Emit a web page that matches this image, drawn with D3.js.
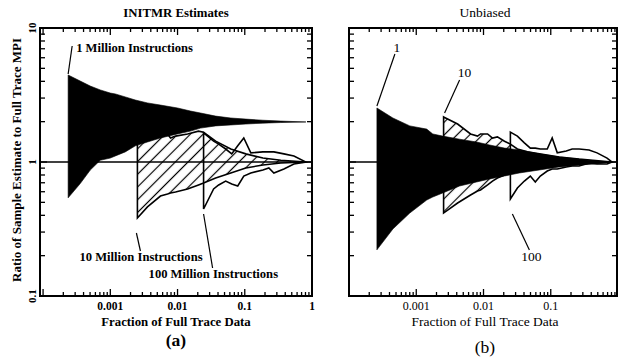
<!DOCTYPE html>
<html>
<head>
<meta charset="utf-8">
<script src="https://cdn.jsdelivr.net/npm/d3@7"></script>
<style>
body { margin: 0; background: #fff; }
text { font-family: "Liberation Serif", "Times New Roman", serif; fill: #000; }
</style>
</head>
<body>
<svg id="chart" width="618" height="361"></svg>
<script>
const yTicks = [0.1, 1, 10]
const xTicksA = [0.001, 0.01, 0.1, 1]
const xTicksB = [0.001, 0.01, 0.1]

// (a) INITMR estimates: max / min ratio per sample fraction
const a1x = [2.36e-4, 3.57e-4, 5.03e-4, 7.09e-4, 1.0e-3, 1.19e-3, 1.67e-3, 2.36e-3, 3.57e-3, 5.57e-3, 1.0e-2, 1.56e-2, 2.2e-2, 3.69e-2, 6.19e-2, 0.1035, 0.186, 0.344, 0.812]
const a1hi = [4.46, 4.02, 3.69, 3.45, 3.27, 3.22, 3.06, 2.90, 2.76, 2.66, 2.53, 2.40, 2.32, 2.20, 2.13, 2.09, 2.05, 2.02, 1.99]
const a1lo = [0.54, 0.69, 0.87, 1.03, 1.07, 1.11, 1.19, 1.32, 1.41, 1.51, 1.62, 1.70, 1.79, 1.86, 1.89, 1.92, 1.95, 1.97, 1.99]

const a10x = [2.53e-3, 3.57e-3, 5.57e-3, 7.10e-3, 7.87e-3, 9.33e-3, 1.41e-2, 2.05e-2, 2.44e-2, 3.69e-2, 6.19e-2, 0.1035, 0.186, 0.344, 0.812]
const a10hi = [1.39, 1.48, 1.56, 1.62, 1.51, 1.56, 1.62, 1.70, 1.67, 1.43, 1.25, 1.15, 1.07, 1.03, 1.0]
const a10lo = [0.382, 0.462, 0.557, 0.577, 0.587, 0.597, 0.629, 0.674, 0.697, 0.760, 0.828, 0.902, 0.950, 0.983, 1.0]

const a100x = [2.44e-2, 3.44e-2, 4.09e-2, 5.20e-2, 6.40e-2, 7.86e-2, 9.67e-2, 0.123, 0.186, 0.228, 0.271, 0.382, 0.538, 0.812]
const a100hi = [1.65, 1.43, 1.36, 1.25, 1.15, 1.32, 1.51, 1.17, 1.19, 1.19, 1.19, 1.15, 1.11, 1.0]
const a100lo = [0.446, 0.629, 0.674, 0.721, 0.685, 0.662, 0.786, 0.828, 0.872, 0.902, 0.828, 0.887, 0.966, 1.0]

// (b) unbiased
const b1x = [2.60e-4, 4.49e-4, 8.02e-4, 1.43e-3, 1.76e-3, 2.47e-3, 4.41e-3, 7.87e-3, 1.23e-2, 2.05e-2, 3.41e-2, 6.76e-2, 0.134, 0.264, 0.441, 0.815]
const b1hi = [2.53, 2.13, 1.86, 1.76, 1.62, 1.56, 1.48, 1.41, 1.34, 1.27, 1.23, 1.15, 1.09, 1.05, 1.02, 1.0]
const b1lo = [0.221, 0.316, 0.416, 0.520, 0.548, 0.587, 0.662, 0.709, 0.747, 0.786, 0.828, 0.872, 0.918, 0.950, 0.966, 1.0]

const b10x = [2.55e-3, 4.12e-3, 6.42e-3, 8.14e-3, 9.03e-3, 1.15e-2, 1.36e-2, 1.61e-2, 2.05e-2, 2.51e-2, 3.19e-2, 4.49e-2, 6.76e-2, 0.134, 0.264, 0.815]
const b10hi = [2.17, 1.92, 1.62, 1.56, 1.62, 1.62, 1.51, 1.54, 1.43, 1.36, 1.25, 1.19, 1.15, 1.09, 1.05, 1.0]
const b10lo = [0.416, 0.494, 0.567, 0.608, 0.618, 0.674, 0.721, 0.760, 0.800, 0.828, 0.842, 0.872, 0.902, 0.934, 0.966, 1.0]

const b100x = [2.51e-2, 3.19e-2, 4.05e-2, 4.97e-2, 5.89e-2, 6.99e-2, 8.87e-2, 0.105, 0.125, 0.170, 0.208, 0.264, 0.371, 0.488, 0.687, 0.815]
const b100hi = [1.67, 1.56, 1.39, 1.27, 1.27, 1.25, 1.25, 1.51, 1.17, 1.21, 1.25, 1.25, 1.23, 1.17, 1.07, 1.0]
const b100lo = [0.530, 0.640, 0.721, 0.786, 0.709, 0.786, 0.857, 0.887, 0.887, 0.918, 0.934, 0.934, 0.983, 0.966, 0.966, 1.0]

function rows(xs, hi, lo) {
    return xs.map(function (v, i) { return { x: v, hi: hi[i], lo: lo[i] } })
}

const svg = d3.select("#chart")
svg.append("rect").attr("width", 618).attr("height", 361).attr("fill", "#fff")

const hatch = svg.append("defs").append("pattern")
    .attr("id", "hatch")
    .attr("patternUnits", "userSpaceOnUse")
    .attr("width", 9).attr("height", 9)
    .attr("patternTransform", "rotate(45)")
hatch.append("line")
    .attr("x1", 4.5).attr("y1", 0).attr("x2", 4.5).attr("y2", 9)
    .attr("stroke", "#000").attr("stroke-width", 1.2)

const y = d3.scaleLog().domain([0.1, 10]).range([296, 28])
const xa = d3.scaleLog().domain([9e-5, 1]).range([40, 312])
const xb = d3.scaleLog().domain([1e-4, 0.966]).range([349, 617])

function isMajor(v) {
    const l = Math.log10(v)
    return Math.abs(l - Math.round(l)) < 1e-6
}

function drawPanel(p) {
    const g = svg.append("g")
    const x = p.x
    const weight = p.bold ? "bold" : "normal"
    const area = d3.area()
        .x(function (d) { return x(d.x) })
        .y0(function (d) { return y(d.lo) })
        .y1(function (d) { return y(d.hi) })

    // 10M: hatched, 100M: outline, 1M: solid black
    g.append("path").datum(p.s10).attr("d", area).attr("fill", "#fff")
    g.append("path").datum(p.s10).attr("d", area)
        .attr("fill", "url(#hatch)").attr("stroke", "#000").attr("stroke-width", 1.6)
    g.append("path").datum(p.s100).attr("d", area)
        .attr("fill", "none").attr("stroke", "#000").attr("stroke-width", 1.6)
    g.append("path").datum(p.s1).attr("d", area)
        .attr("fill", "#000").attr("stroke", "#000").attr("stroke-width", 0.6)

    const x0 = x.range()[0], x1 = x.range()[1]
    const yTop = y.range()[1], yBot = y.range()[0]

    g.append("line")
        .attr("x1", x0).attr("x2", x1).attr("y1", y(1)).attr("y2", y(1))
        .attr("stroke", "#000").attr("stroke-width", 1.5)

    g.append("rect")
        .attr("x", x0).attr("y", yTop).attr("width", x1 - x0).attr("height", yBot - yTop)
        .attr("fill", "none").attr("stroke", "#000").attr("stroke-width", 2)

    // inward log ticks on all four sides
    x.ticks().forEach(function (v) {
        const len = isMajor(v) ? 7 : 4
        g.append("line").attr("x1", x(v)).attr("x2", x(v)).attr("y1", yBot).attr("y2", yBot - len)
            .attr("stroke", "#000").attr("stroke-width", 1.3)
        g.append("line").attr("x1", x(v)).attr("x2", x(v)).attr("y1", yTop).attr("y2", yTop + len)
            .attr("stroke", "#000").attr("stroke-width", 1.3)
    })
    y.ticks().forEach(function (v) {
        const len = isMajor(v) ? 7 : 5
        g.append("line").attr("x1", x0).attr("x2", x0 + len).attr("y1", y(v)).attr("y2", y(v))
            .attr("stroke", "#000").attr("stroke-width", 1.3)
        g.append("line").attr("x1", x1).attr("x2", x1 - len).attr("y1", y(v)).attr("y2", y(v))
            .attr("stroke", "#000").attr("stroke-width", 1.3)
    })

    p.xTicks.forEach(function (v) {
        g.append("text")
            .attr("x", x(v)).attr("y", 310)
            .attr("text-anchor", "middle")
            .style("font-size", p.tickSize + "px").style("font-weight", weight)
            .text(String(v))
    })

    if (p.yLabels) {
        yTicks.forEach(function (v) {
            g.append("text")
                .attr("transform", "translate(" + (x0 - 4) + "," + y(v) + ") rotate(-90)")
                .attr("text-anchor", "middle")
                .style("font-size", "11px").style("font-weight", weight)
                .text(String(v))
        })
        g.append("text")
            .attr("transform", "translate(21,160) rotate(-90)")
            .attr("text-anchor", "middle")
            .style("font-size", "13px").style("font-weight", "bold")
            .text("Ratio of Sample Estimate to Full Trace MPI")
    }

    const cx = (x0 + x1) / 2
    g.append("text").attr("x", p.titleX).attr("y", 17).attr("text-anchor", "middle")
        .style("font-size", p.titleSize + "px").style("font-weight", weight).text(p.title)
    g.append("text").attr("x", p.titleX).attr("y", 326).attr("text-anchor", "middle")
        .style("font-size", p.titleSize + "px").style("font-weight", weight).text("Fraction of Full Trace Data")
    g.append("text").attr("x", p.titleX).attr("y", p.tagY).attr("text-anchor", "middle")
        .style("font-size", "17.5px").style("font-weight", weight).text(p.tag)

    // labels with leader lines, anchored on the start of each series
    p.notes.forEach(function (n) {
        const ax = x(n.s[0].x)
        const ay = y(n.top ? n.s[0].hi : n.s[0].lo)
        g.append("line")
            .attr("x1", ax + n.l[0]).attr("y1", ay + n.l[1])
            .attr("x2", ax + n.l[2]).attr("y2", ay + n.l[3])
            .attr("stroke", "#000").attr("stroke-width", 1.2)
        g.append("text")
            .attr("x", ax + n.t[0]).attr("y", ay + n.t[1])
            .attr("text-anchor", n.anchor)
            .style("font-size", n.size + "px").style("font-weight", weight)
            .text(n.text)
    })
}

const sa1 = rows(a1x, a1hi, a1lo), sa10 = rows(a10x, a10hi, a10lo), sa100 = rows(a100x, a100hi, a100lo)
const sb1 = rows(b1x, b1hi, b1lo), sb10 = rows(b10x, b10hi, b10lo), sb100 = rows(b100x, b100hi, b100lo)

drawPanel({
    x: xa, bold: true, s1: sa1, s10: sa10, s100: sa100,
    xTicks: xTicksA, tickSize: 11.5, yLabels: true,
    title: "INITMR Estimates", titleX: 176, titleSize: 12.8, tag: "(a)", tagY: 346,
    notes: [
        { s: sa1, top: true, l: [0, -1, 4, -29], t: [8, -23], anchor: "start", size: 12.6, text: "1 Million Instructions" },
        { s: sa10, top: false, l: [-1, 15, 3, 33], t: [-58, 43], anchor: "start", size: 12.6, text: "10 Million Instructions" },
        { s: sa100, top: false, l: [0, 5, 9, 59], t: [-55, 69], anchor: "start", size: 12.6, text: "100 Million Instructions" }
    ]
})

drawPanel({
    x: xb, bold: false, s1: sb1, s10: sb10, s100: sb100,
    xTicks: xTicksB, tickSize: 12, yLabels: false,
    title: "Unbiased", titleX: 485, titleSize: 13.5, tag: "(b)", tagY: 353,
    notes: [
        { s: sb1, top: true, l: [0, -2, 18, -54], t: [20, -56], anchor: "middle", size: 13.5, text: "1" },
        { s: sb10, top: true, l: [1, -4, 16, -37], t: [21, -40], anchor: "middle", size: 13.5, text: "10" },
        { s: sb100, top: false, l: [2, 15, 19, 51], t: [21, 62], anchor: "middle", size: 13.5, text: "100" }
    ]
})
</script>
</body>
</html>
